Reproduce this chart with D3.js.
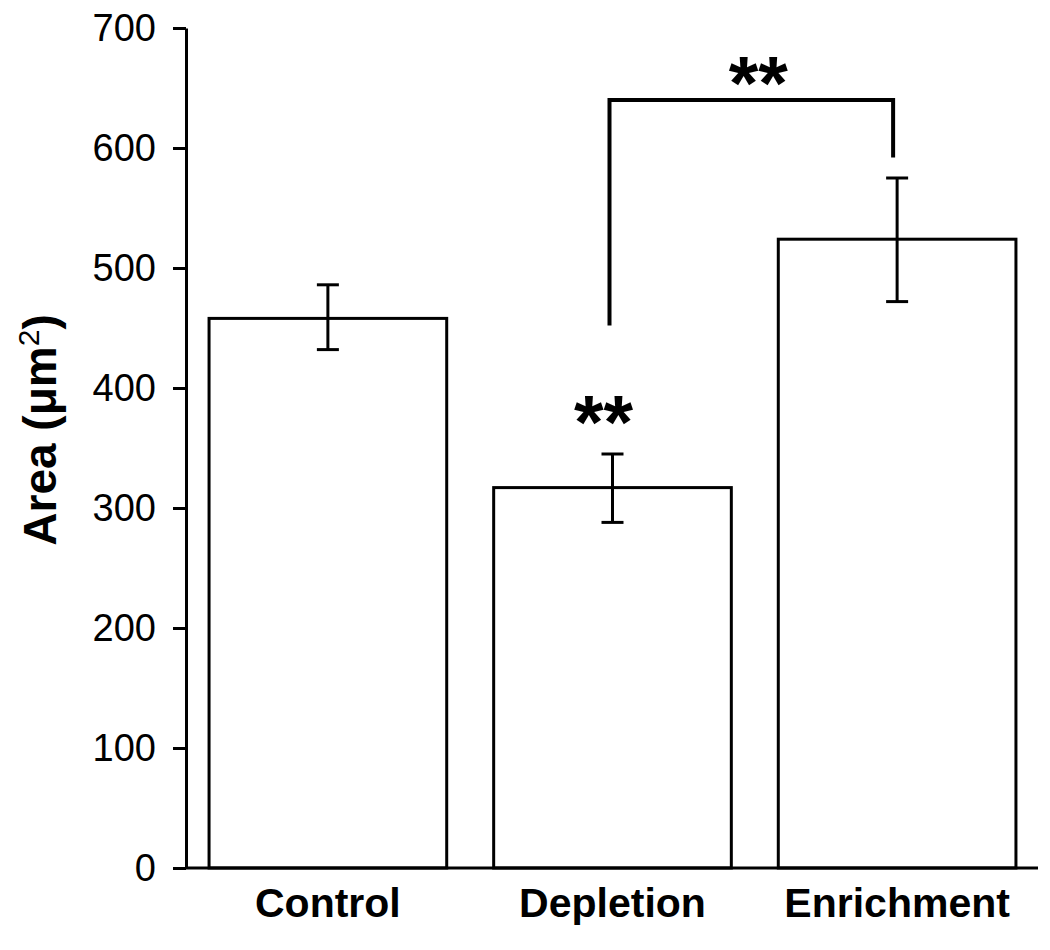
<!DOCTYPE html>
<html>
<head>
<meta charset="utf-8">
<script src="https://cdn.jsdelivr.net/npm/d3@7"></script>
<style>
  html, body { margin: 0; padding: 0; background: #fff; }
  svg { display: block; }
</style>
</head>
<body>
<svg id="chart" width="1050" height="950"></svg>
<script>
const categories = ["Control", "Depletion", "Enrichment"];
const means = [458, 317, 524];
const errLow = [432, 288, 472];
const errHigh = [486, 345, 575];
const yTicks = [0, 100, 200, 300, 400, 500, 600, 700];
const yLabelMain = "Area (μm";
const yLabelSup = "2";
const yLabelEnd = ")";
// significance annotations (values in data units)
const sigBracket = { from: "Depletion", to: "Enrichment", top: 640, fromEnd: 452, toEnd: 592, label: "**" };
const sigMarks = [{ category: "Depletion", value: 388, label: "**" }];

const svg = d3.select("#chart");
const x0 = 186, x1 = 1039, yBottom = 868, yTop = 28;

const x = d3.scaleBand().domain(categories).range([x0, x1])
  .paddingInner(0.165).paddingOuter(0.081);
const y = d3.scaleLinear().domain([0, 700]).range([yBottom, yTop]);

const font = "'Liberation Sans', Arial, sans-serif";

// bars
svg.append("g").selectAll("rect").data(categories).join("rect")
  .attr("x", d => x(d))
  .attr("y", (d, i) => y(means[i]))
  .attr("width", x.bandwidth())
  .attr("height", (d, i) => y(0) - y(means[i]))
  .attr("fill", "#fff").attr("stroke", "#000").attr("stroke-width", 3);

// error bars
const eg = svg.append("g").attr("stroke", "#000").attr("stroke-width", 3);
categories.forEach((c, i) => {
  const cx = x(c) + x.bandwidth() / 2;
  eg.append("line").attr("x1", cx).attr("x2", cx).attr("y1", y(errLow[i])).attr("y2", y(errHigh[i]));
  eg.append("line").attr("x1", cx - 11).attr("x2", cx + 11).attr("y1", y(errLow[i])).attr("y2", y(errLow[i]));
  eg.append("line").attr("x1", cx - 11).attr("x2", cx + 11).attr("y1", y(errHigh[i])).attr("y2", y(errHigh[i]));
});

// y axis
const yAxis = d3.axisLeft(y).tickValues(yTicks).tickSize(13).tickPadding(17).tickSizeOuter(0);
const yg = svg.append("g").attr("transform", `translate(${x0},0)`).call(yAxis);
yg.select(".domain").attr("stroke-width", 3);
yg.selectAll(".tick line").attr("stroke-width", 3);
yg.selectAll(".tick text").attr("font-family", font).attr("font-size", 38).attr("fill", "#000");

// x axis
const xAxis = d3.axisBottom(x).tickSize(0).tickPadding(20).tickSizeOuter(0);
const xg = svg.append("g").attr("transform", `translate(0,${yBottom})`).call(xAxis);
xg.select(".domain").attr("stroke-width", 3).attr("d", `M${x0 - 1},0H${x1 - 1}`);
xg.selectAll(".tick text").attr("font-family", font).attr("font-size", 41)
  .attr("font-weight", "bold").attr("fill", "#000").attr("dy", "0.71em");

// y label
const yl = svg.append("text")
  .attr("transform", `translate(56,430) rotate(-90)`)
  .attr("text-anchor", "middle")
  .attr("font-family", font).attr("font-size", 46).attr("font-weight", "bold");
yl.append("tspan").text(yLabelMain);
yl.append("tspan").attr("font-size", 30).attr("dy", -17).attr("font-weight", "normal").text(yLabelSup);
yl.append("tspan").attr("dy", 17).text(yLabelEnd);

// bracket
const bx1 = x(sigBracket.from) + x.bandwidth() / 2 - 3;
const bx2 = x(sigBracket.to) + x.bandwidth() / 2 - 4;
svg.append("path")
  .attr("d", `M${bx1},${y(sigBracket.fromEnd)}V${y(sigBracket.top)}H${bx2}V${y(sigBracket.toEnd)}`)
  .attr("fill", "none").attr("stroke", "#000").attr("stroke-width", 4);
svg.append("text")
  .attr("x", (bx1 + bx2) / 2 + 7).attr("y", y(sigBracket.top) - 37)
  .attr("text-anchor", "middle").attr("font-family", font).attr("font-size", 76).attr("font-weight", "bold")
  .attr("dy", "0.6em")
  .text(sigBracket.label);

sigMarks.forEach(m => {
  svg.append("text")
    .attr("x", x(m.category) + x.bandwidth() / 2 - 9)
    .attr("y", y(m.value))
    .attr("text-anchor", "middle").attr("font-family", font).attr("font-size", 76).attr("font-weight", "bold")
    .attr("dy", "0.6em")
    .text(m.label);
});
</script>
</body>
</html>
